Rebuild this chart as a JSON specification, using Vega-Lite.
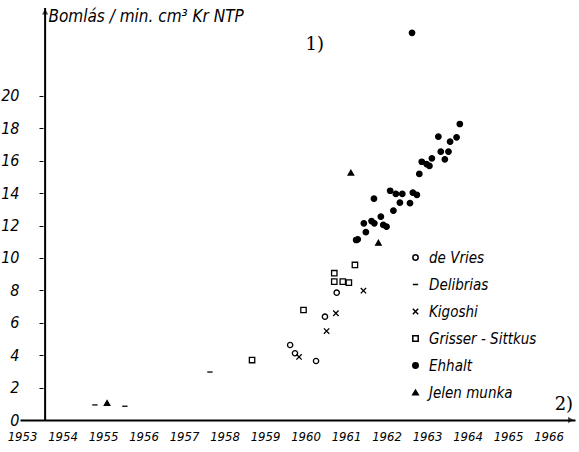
{
  "$schema": "https://vega.github.io/schema/vega-lite/v6.json",
  "width": 555,
  "height": 412,
  "autosize": {"type": "none"},
  "padding": {"left": 20, "top": 8, "right": 4, "bottom": 32},
  "background": "white",
  "config": {
    "view": {"stroke": null},
    "font": "DejaVu Sans Condensed, Liberation Sans Narrow, DejaVu Sans"
  },
  "data": {"values": [{}]},
  "resolve": {"axis": {"y": "independent"}},
  "datasets": {
    "pts": [
      {"src": "de Vries", "year": 1959.62, "v": 4.63},
      {"src": "de Vries", "year": 1959.74, "v": 4.12},
      {"src": "de Vries", "year": 1960.26, "v": 3.64},
      {"src": "de Vries", "year": 1960.48, "v": 6.38},
      {"src": "de Vries", "year": 1960.77, "v": 7.86},
      {"src": "Delibrias", "year": 1957.64, "v": 2.96},
      {"src": "Delibrias", "year": 1954.8, "v": 0.93},
      {"src": "Delibrias", "year": 1955.54, "v": 0.85},
      {"src": "Kigoshi", "year": 1959.84, "v": 3.89},
      {"src": "Kigoshi", "year": 1960.52, "v": 5.49},
      {"src": "Kigoshi", "year": 1960.75, "v": 6.59},
      {"src": "Kigoshi", "year": 1961.43, "v": 7.98},
      {"src": "Grisser - Sittkus", "year": 1958.68, "v": 3.7},
      {"src": "Grisser - Sittkus", "year": 1959.95, "v": 6.79},
      {"src": "Grisser - Sittkus", "year": 1960.71, "v": 9.06},
      {"src": "Grisser - Sittkus", "year": 1960.71, "v": 8.54},
      {"src": "Grisser - Sittkus", "year": 1960.92, "v": 8.54},
      {"src": "Grisser - Sittkus", "year": 1961.07, "v": 8.48},
      {"src": "Grisser - Sittkus", "year": 1961.22, "v": 9.57},
      {"src": "Ehhalt", "year": 1963.81, "v": 18.27},
      {"src": "Ehhalt", "year": 1963.28, "v": 17.49},
      {"src": "Ehhalt", "year": 1963.57, "v": 17.18},
      {"src": "Ehhalt", "year": 1963.73, "v": 17.45},
      {"src": "Ehhalt", "year": 1963.34, "v": 16.56},
      {"src": "Ehhalt", "year": 1963.53, "v": 16.56},
      {"src": "Ehhalt", "year": 1963.44, "v": 16.09},
      {"src": "Ehhalt", "year": 1963.12, "v": 16.15},
      {"src": "Ehhalt", "year": 1962.87, "v": 15.94},
      {"src": "Ehhalt", "year": 1962.99, "v": 15.8},
      {"src": "Ehhalt", "year": 1963.06, "v": 15.68},
      {"src": "Ehhalt", "year": 1962.81, "v": 15.19},
      {"src": "Ehhalt", "year": 1962.09, "v": 14.15},
      {"src": "Ehhalt", "year": 1962.23, "v": 13.95},
      {"src": "Ehhalt", "year": 1962.39, "v": 13.95},
      {"src": "Ehhalt", "year": 1962.65, "v": 14.03},
      {"src": "Ehhalt", "year": 1962.75, "v": 13.89},
      {"src": "Ehhalt", "year": 1961.69, "v": 13.66},
      {"src": "Ehhalt", "year": 1962.33, "v": 13.41},
      {"src": "Ehhalt", "year": 1962.58, "v": 13.38},
      {"src": "Ehhalt", "year": 1962.17, "v": 12.92},
      {"src": "Ehhalt", "year": 1961.86, "v": 12.55},
      {"src": "Ehhalt", "year": 1961.44, "v": 12.14},
      {"src": "Ehhalt", "year": 1961.63, "v": 12.28},
      {"src": "Ehhalt", "year": 1961.7, "v": 12.14},
      {"src": "Ehhalt", "year": 1961.92, "v": 12.04},
      {"src": "Ehhalt", "year": 1962.0, "v": 11.93},
      {"src": "Ehhalt", "year": 1961.49, "v": 11.59},
      {"src": "Ehhalt", "year": 1961.25, "v": 11.11},
      {"src": "Ehhalt", "year": 1961.29, "v": 11.15},
      {"src": "Ehhalt", "year": 1962.63, "v": 23.9},
      {"src": "Jelen munka", "year": 1955.1, "v": 1.05},
      {"src": "Jelen munka", "year": 1961.8, "v": 10.94},
      {"src": "Jelen munka", "year": 1961.12, "v": 15.27}
    ]
  },
  "layer": [
    {
      "data": {"name": "pts"},
      "mark": {"type": "point", "stroke": "black", "strokeWidth": 1.3, "opacity": 1},
      "encoding": {
        "x": {
          "field": "year",
          "type": "quantitative",
          "scale": {"domain": [1952.95, 1966.654], "nice": false, "zero": false},
          "axis": {
            "values": [1953, 1954, 1955, 1956, 1957, 1958, 1959, 1960, 1961, 1962, 1963, 1964, 1965, 1966],
            "format": "d",
            "title": null,
            "grid": false,
            "ticks": false,
            "domain": true,
            "domainColor": "black",
            "domainWidth": 2,
            "labelPadding": 10,
            "labelFontSize": 13,
            "labelFontStyle": "italic",
            "labelColor": "black",
            "labelFlush": false,
            "labelOverlap": false
          }
        },
        "y": {
          "field": "v",
          "type": "quantitative",
          "scale": {"domain": [0, 25.43], "nice": false},
          "axis": {
            "orient": "left",
            "values": [0, 2, 4, 6, 8, 10, 12, 14, 16, 18, 20],
            "title": "Bomlás / min. cm³ Kr NTP",
            "titleAngle": 0,
            "titleAlign": "left",
            "titleBaseline": "middle",
            "titleX": 28,
            "titleY": 8,
            "titleFontSize": 17,
            "titleFontStyle": "italic",
            "titleFontWeight": "normal",
            "titleColor": "black",
            "grid": false,
            "ticks": false,
            "domain": false,
            "labelPadding": 1,
            "labelFontSize": 16,
            "labelFontStyle": "italic",
            "labelColor": "black"
          }
        },
        "shape": {
          "field": "src",
          "type": "nominal",
          "scale": {
            "domain": ["de Vries", "Delibrias", "Kigoshi", "Grisser - Sittkus", "Ehhalt", "Jelen munka"],
            "range": ["circle", "stroke", "M-1,-1L1,1M-1,1L1,-1", "square", "circle", "triangle-up"]
          },
          "legend": {
            "title": null,
            "orient": "none",
            "legendX": 388,
            "legendY": 242,
            "rowPadding": 11,
            "labelFontSize": 15,
            "labelFontStyle": "italic",
            "labelColor": "black",
            "labelOffset": 6,
            "encode": {"symbols": {"update": {"stroke": {"value": "black"}, "strokeWidth": {"value": 1.3}}}}
          }
        },
        "fill": {
          "field": "src",
          "type": "nominal",
          "scale": {
            "domain": ["de Vries", "Delibrias", "Kigoshi", "Grisser - Sittkus", "Ehhalt", "Jelen munka"],
            "range": ["white", "black", "black", "white", "black", "black"]
          },
          "legend": {
            "title": null,
            "orient": "none",
            "legendX": 388,
            "legendY": 242,
            "rowPadding": 11,
            "labelFontSize": 15,
            "labelFontStyle": "italic",
            "labelColor": "black",
            "labelOffset": 6,
            "encode": {"symbols": {"update": {"stroke": {"value": "black"}, "strokeWidth": {"value": 1.3}}}}
          }
        },
        "size": {
          "field": "src",
          "type": "nominal",
          "scale": {
            "domain": ["de Vries", "Delibrias", "Kigoshi", "Grisser - Sittkus", "Ehhalt", "Jelen munka"],
            "range": [28, 30, 22, 18, 42, 22]
          },
          "legend": {
            "title": null,
            "orient": "none",
            "legendX": 388,
            "legendY": 242,
            "rowPadding": 11,
            "labelFontSize": 15,
            "labelFontStyle": "italic",
            "labelColor": "black",
            "labelOffset": 6,
            "encode": {"symbols": {"update": {"stroke": {"value": "black"}, "strokeWidth": {"value": 1.3}}}}
          }
        }
      }
    },
    {
      "mark": {"type": "point", "opacity": 0},
      "encoding": {
        "x": {"datum": 1960, "type": "quantitative"},
        "y": {
          "datum": 0,
          "type": "quantitative",
          "axis": {
            "orient": "left",
            "offset": -23,
            "values": [2, 4, 6, 8, 10, 12, 14, 16, 18, 20],
            "title": null,
            "labels": false,
            "ticks": true,
            "tickSize": 4,
            "tickColor": "black",
            "tickWidth": 1,
            "domain": false,
            "grid": false
          }
        }
      }
    },
    {
      "mark": {"type": "rule", "color": "black", "strokeWidth": 2},
      "encoding": {"x": {"datum": 1953.57, "type": "quantitative"}}
    },
    {
      "mark": {"type": "point", "shape": "triangle-up", "filled": true, "color": "black", "size": 40},
      "encoding": {
        "x": {"datum": 1953.57, "type": "quantitative"},
        "y": {"datum": 25.2, "type": "quantitative", "axis": null}
      }
    },
    {
      "mark": {"type": "point", "shape": "triangle-right", "filled": true, "color": "black", "size": 40},
      "encoding": {
        "x": {"datum": 1966.55, "type": "quantitative"},
        "y": {"datum": 0, "type": "quantitative", "axis": null}
      }
    },
    {
      "mark": {"type": "text", "fontSize": 18, "font": "DejaVu Serif", "color": "black"},
      "encoding": {
        "x": {"datum": 1960.23, "type": "quantitative"},
        "y": {"datum": 23.15, "type": "quantitative", "axis": null},
        "text": {"value": "1)"}
      }
    },
    {
      "mark": {"type": "text", "fontSize": 18, "font": "DejaVu Serif", "color": "black"},
      "encoding": {
        "x": {"datum": 1966.38, "type": "quantitative"},
        "y": {"datum": 0.93, "type": "quantitative", "axis": null},
        "text": {"value": "2)"}
      }
    }
  ]
}
